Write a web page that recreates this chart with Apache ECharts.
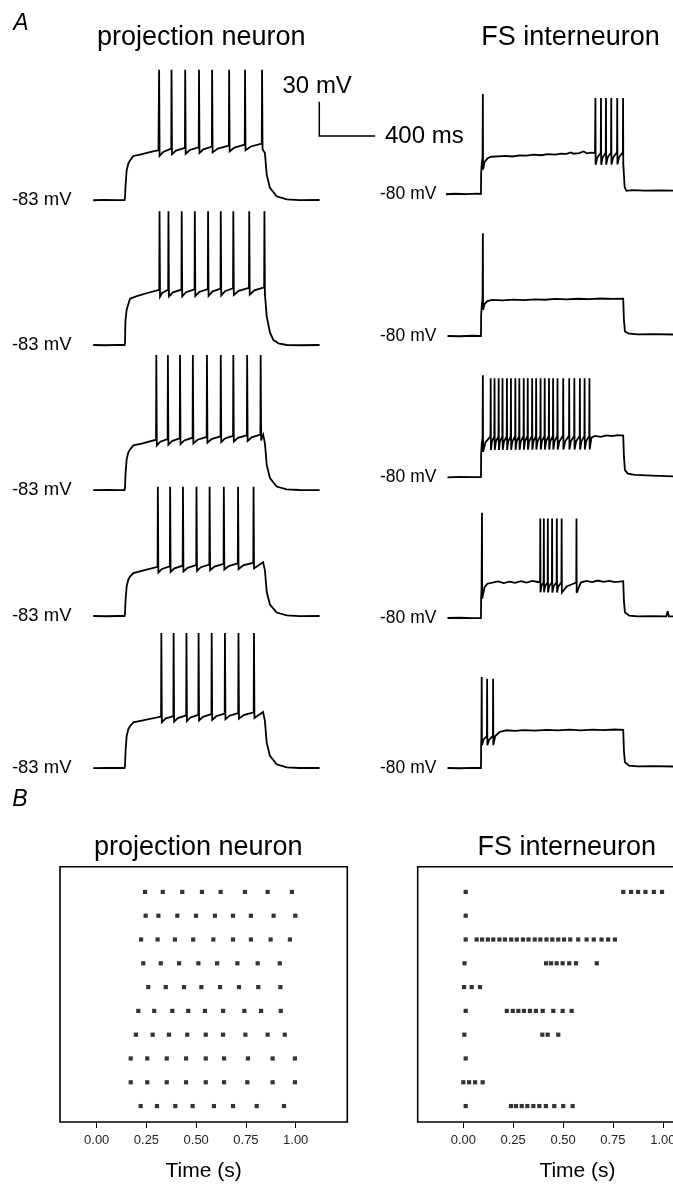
<!DOCTYPE html>
<html><head><meta charset="utf-8">
<script src="https://cdn.jsdelivr.net/npm/echarts@6.0.0/dist/echarts.min.js"></script>
<style>html,body{margin:0;padding:0;background:#fff}#c{width:673px;height:1185px}</style>
</head><body><div id="c"></div><script>
// ---------- DATA ----------
// Spike times (s) after step onset, trials top to bottom (panel B rasters; first five = traces in panel A)
const projSpikes = [
  [0.243,0.332,0.430,0.529,0.623,0.745,0.859,0.981],
  [0.246,0.310,0.405,0.499,0.594,0.685,0.775,0.889,0.998],
  [0.223,0.306,0.393,0.485,0.586,0.685,0.775,0.874,0.971],
  [0.234,0.322,0.414,0.511,0.605,0.707,0.809,0.920],
  [0.259,0.347,0.439,0.526,0.620,0.715,0.812,0.923],
  [0.209,0.289,0.380,0.460,0.544,0.635,0.742,0.826,0.925],
  [0.197,0.281,0.363,0.455,0.548,0.635,0.747,0.859,0.945],
  [0.171,0.254,0.352,0.449,0.548,0.640,0.760,0.884,0.996],
  [0.171,0.254,0.352,0.449,0.548,0.640,0.757,0.884,0.996],
  [0.221,0.303,0.395,0.482,0.589,0.685,0.804,0.941]
];
const fsSpikes = [
  [0.012,0.802,0.841,0.876,0.913,0.955,0.996],
  [0.012],
  [0.012,0.067,0.094,0.123,0.150,0.181,0.209,0.240,0.268,0.299,0.327,0.358,0.386,0.417,0.446,0.476,0.505,0.536,0.576,0.618,0.654,0.693,0.726,0.760],
  [0.006,0.415,0.440,0.468,0.498,0.531,0.565,0.669],
  [0.004,0.042,0.084],
  [0.012,0.218,0.248,0.276,0.304,0.334,0.364,0.398,0.451,0.498,0.543],
  [0.005,0.396,0.423,0.476],
  [0.012],
  [0.000,0.029,0.059,0.097],
  [0.012,0.239,0.264,0.293,0.321,0.351,0.381,0.414,0.456,0.501,0.548]
];
// Subthreshold membrane potential key points [ms, mV] for the five traces of each cell
const projEnv = [
  [[-228,-83.2],[-150,-82.9],[-60,-83.1],[-3,-83],[0,-81],[4,-70],[12,-57],[24,-51],[36,-48.4],[60,-44.5],[108,-43.2],[200,-40.5],[240,-39.5],[330,-38],[600,-36.5],[990,-33.5],[1003,-42],[1016,-61],[1039,-72.4],[1087,-79.8],[1159,-82.4],[1250,-83.1],[1395,-83]],
  [[-228,-83],[-140,-83.2],[-50,-82.9],[-3,-83],[0,-81],[3,-62],[12,-52],[36,-42.5],[80,-40.5],[160,-37.5],[246,-34.8],[600,-34],[1000,-32.5],[1004,-38],[1016,-58],[1039,-72],[1063,-78.6],[1100,-81.5],[1160,-83],[1260,-83.2],[1395,-83]],
  [[-228,-83.1],[-130,-82.9],[-40,-83.1],[-3,-83],[0,-81],[4,-68],[12,-56],[24,-50],[36,-47.5],[60,-44],[120,-42.5],[223,-39],[600,-36.5],[990,-34.5],[1003,-42],[1016,-61],[1039,-72.5],[1087,-80],[1159,-82.5],[1250,-83],[1395,-83.1]],
  [[-228,-83],[-140,-83.2],[-50,-83],[-3,-83],[0,-81],[4,-69],[12,-57],[24,-51],[36,-48.5],[60,-45.5],[120,-43.5],[234,-40],[600,-38],[990,-36],[1003,-43],[1016,-62],[1039,-73],[1087,-80],[1159,-82.5],[1250,-83.1],[1395,-83]],
  [[-228,-83.1],[-130,-83],[-40,-82.9],[-3,-83],[0,-81],[4,-68],[12,-55],[24,-49],[36,-46.5],[60,-43],[120,-41.5],[259,-38],[600,-36],[990,-34],[1003,-42],[1016,-61],[1039,-72.4],[1087,-79.8],[1159,-82.4],[1250,-83],[1395,-83]]
];
const fsEnv = [
  [[-246,-80.2],[-180,-79.8],[-100,-80.1],[-30,-79.7],[-1,-80],[0,-78],[1,-62],[6,-52],[11,-48],[25,-52],[45,-49],[70,-47.4],[120,-47.0],[170,-46.6],[220,-47.2],[270,-46.2],[320,-46.5],[370,-45.6],[420,-46.1],[470,-45.2],[520,-45.5],[560,-44.6],[600,-44.9],[630,-43.6],[650,-44.8],[690,-44.2],[720,-42.8],[745,-44.5],[770,-43.9],[800,-44],[1000,-43.5],[1003,-62],[1008,-74],[1020,-77.2],[1060,-76.6],[1150,-77.1],[1250,-76.8],[1400,-77.2]],
  [[-235,-80],[-150,-80.2],[-60,-79.8],[-1,-80],[0,-78],[1,-62],[6,-52],[11,-48],[25,-52],[45,-49.5],[80,-48.4],[150,-48.8],[230,-48.1],[300,-48.6],[380,-47.9],[450,-48.3],[520,-47.6],[600,-48.0],[680,-47.4],[760,-47.8],[840,-47.2],[920,-47.6],[998,-47.3],[1003,-66],[1010,-76],[1040,-78],[1100,-78.6],[1200,-78.4],[1400,-78.8]],
  [[-235,-80.3],[-150,-79.9],[-60,-80.1],[-1,-80],[0,-78],[1,-60],[6,-50],[11,-46],[40,-44.5],[400,-44],[760,-44],[775,-45.5],[800,-44],[840,-44.8],[880,-43.6],[920,-44.2],[960,-43.4],[998,-43.8],[1003,-62],[1010,-74],[1030,-77],[1080,-78.2],[1200,-78.8],[1400,-79.8]],
  [[-235,-80],[-150,-79.8],[-60,-80.1],[-1,-80],[0,-78],[1,-62],[4,-54],[25,-53],[45,-50],[80,-49],[120,-48],[160,-49.5],[200,-48.2],[240,-49.3],[280,-47.8],[320,-49],[360,-47.6],[400,-48.5],[700,-49],[740,-47.5],[780,-48.6],[820,-47.2],[860,-48.4],[900,-47.5],[940,-48.6],[998,-47.8],[1003,-65],[1010,-75],[1040,-78],[1100,-78.6],[1200,-78.3],[1300,-78.5],[1310,-74],[1318,-78.5],[1400,-78.7]],
  [[-235,-80],[-150,-80.2],[-60,-79.9],[-1,-80],[0,-78],[1,-60],[3,-52],[100,-52],[130,-48.5],[180,-47],[240,-47.5],[300,-46.8],[380,-47.3],[460,-46.6],[540,-47.1],[620,-46.5],[700,-47],[780,-46.4],[860,-46.9],[940,-46.3],[998,-46.6],[1003,-65],[1010,-75],[1040,-78],[1100,-78.6],[1200,-78.4],[1400,-78.8]]
];
const projPeak = [31, 34, 35, 30, 35];          // spike peak (mV)
const projAhp = [5, 6, 5, 5, 5];                // afterhyperpolarisation depth (mV)
const fsOnsetPeak = [7.5, 10, 9, 12, -0.4];     // first spike peak (mV)
const fsBurstPeak = [4, 4, 6.5, 7, -2];         // later spikes peak (mV)
const fsAhp = [10.5, 9, 12, 9, 8];
const projRest = -83, fsRest = -80;             // resting potentials (mV)
const timeTicks = [0, 0.25, 0.5, 0.75, 1.0];   // s
const scaleBar = {mV: 30, ms: 400};

// ---------- BUILD ----------
function interp(env, t) {
  for (let i = 1; i < env.length; i++) {
    if (t <= env[i][0]) {
      const [t0, v0] = env[i-1], [t1, v1] = env[i];
      return v0 + (v1 - v0) * (t - t0) / (t1 - t0);
    }
  }
  return env[env.length-1][1];
}
function buildTrace(env, spikes, pkFirst, pkRest, ahp, rise, fall) {
  const out = [];
  env.forEach(p => { if (p[0] < spikes[0] - 0.6) out.push(p); });
  spikes.forEach((ts, k) => {
    const thr = interp(env, ts - 0.5);
    const pk = k === 0 ? pkFirst : pkRest;
    out.push([ts - 0.5, thr]);
    out.push([ts + rise, pk]);
    out.push([ts + fall, thr - ahp]);
    const next = spikes[k+1];
    if (next !== undefined && next - ts < 150) {
      const m = ts + 0.35 * (next - ts);
      out.push([m, interp(env, m) - ahp * 0.4]);
    } else {
      const lim = next !== undefined ? next - 0.6 : Infinity;
      env.forEach(p => { if (p[0] > ts + fall + 6 && p[0] < lim) out.push(p); });
    }
  });
  return out;
}

const FONT = '"Liberation Sans", Arial, Helvetica, sans-serif';
const projBaseY = [200, 345, 490, 616, 768];
const fsBaseY = [194, 336, 477, 618, 768];
const pxPerMV = 1.143, pxL = 0.1395, pxR = 0.1425;

const grid = [], xAxis = [], yAxis = [], series = [];
function addGrid(g, xa, ya) {
  grid.push(Object.assign({outerBoundsMode: 'none'}, g));
  const gi = grid.length - 1;
  xAxis.push(Object.assign({gridIndex: gi, type: 'value'}, xa));
  yAxis.push(Object.assign({gridIndex: gi, type: 'value'}, ya));
  return gi;
}
const lineSeries = (gi, data, w) => ({
  type: 'line', xAxisIndex: gi, yAxisIndex: gi, data, showSymbol: false, symbol: 'none',
  clip: false, lineStyle: {color: '#000', width: w || 1.8, join: 'miter', miterLimit: 4}, silent: true
});

// projection neuron traces
for (let i = 0; i < 5; i++) {
  const xMin = -240, xMax = 1420, yMin = -90, yMax = 40;
  const gi = addGrid(
    {left: 125 + xMin * pxL, width: (xMax - xMin) * pxL, top: projBaseY[i] - (yMax - projRest) * pxPerMV, height: (yMax - yMin) * pxPerMV},
    {min: xMin, max: xMax, show: false},
    {min: yMin, max: yMax, axisLine: {show: false}, axisTick: {show: false}, splitLine: {show: false},
     axisLabel: {customValues: [projRest], formatter: v => v + ' mV', margin: 20, fontSize: 18.5, color: '#000', fontFamily: FONT}}
  );
  const ms = projSpikes[i].map(t => t * 1000);
  series.push(lineSeries(gi, buildTrace(projEnv[i], ms, projPeak[i], projPeak[i], projAhp[i], 1.5, 5)));
}
// FS interneuron traces
for (let i = 0; i < 5; i++) {
  const xMin = -250, xMax = 1450, yMin = -90, yMax = 20;
  const gi = addGrid(
    {left: 481 + xMin * pxR, width: (xMax - xMin) * pxR, top: fsBaseY[i] - (yMax - fsRest) * pxPerMV, height: (yMax - yMin) * pxPerMV},
    {min: xMin, max: xMax, show: false},
    {min: yMin, max: yMax, axisLine: {show: false}, axisTick: {show: false}, splitLine: {show: false},
     axisLabel: {customValues: [fsRest], formatter: v => v + ' mV', margin: 9, fontSize: 17.5, color: '#000', fontFamily: FONT}}
  );
  const ms = fsSpikes[i].map(t => t * 1000);
  series.push(lineSeries(gi, buildTrace(fsEnv[i], ms, fsOnsetPeak[i], fsBurstPeak[i], fsAhp[i], 1, 2.5)));
}
// scale bar
{
  const gi = addGrid({left: 319.3, top: 101.7, width: scaleBar.ms * pxL, height: scaleBar.mV * pxPerMV},
    {min: 0, max: scaleBar.ms, show: false}, {min: 0, max: scaleBar.mV, show: false});
  series.push(lineSeries(gi, [[0, scaleBar.mV], [0, 0], [scaleBar.ms, 0]], 1.5));
}
// rasters
function addRaster(left, width, zero, pxPerS, spikes) {
  const xMin = (left - zero) / pxPerS, xMax = (left + width - zero) / pxPerS;
  const gi = addGrid(
    {left, width, top: 866.7, height: 255.3, show: true, borderColor: '#000', borderWidth: 1.6},
    {min: xMin, max: xMax, position: 'bottom', axisLine: {show: false, onZero: false}, splitLine: {show: false},
     axisTick: {show: true, customValues: timeTicks, length: 6, lineStyle: {color: '#000', width: 1}},
     axisLabel: {customValues: timeTicks, formatter: v => v.toFixed(2), margin: 12, fontSize: 13, color: '#222', fontFamily: FONT},
     name: 'Time (s)', nameLocation: 'middle', nameGap: 39, nameTextStyle: {fontSize: 21, color: '#000', fontFamily: FONT}},
    {min: -0.06, max: 10.67, inverse: true, show: false}
  );
  const data = [];
  spikes.forEach((row, i) => row.forEach(t => data.push([t, i + 1])));
  series.push({type: 'scatter', xAxisIndex: gi, yAxisIndex: gi, data, symbol: 'rect', symbolSize: 4.2,
    itemStyle: {color: '#000'}, silent: true, clip: false});
}
addRaster(60, 287.3, 96.7, 199, projSpikes);
addRaster(417.7, 319.6, 463.3, 199.5, fsSpikes);

const txt = (x, y, text, font, align) => ({type: 'text', x, y, silent: true,
  style: {text, font, fill: '#000', textAlign: align || 'center', textVerticalAlign: 'middle'}});
const graphic = [
  txt(21, 24, 'A', 'italic 23px ' + FONT),
  txt(201.3, 38, 'projection neuron', '27px ' + FONT),
  txt(570.5, 38, 'FS interneuron', '27px ' + FONT),
  txt(317.2, 86, scaleBar.mV + ' mV', '24px ' + FONT),
  txt(385, 136.5, scaleBar.ms + ' ms', '24px ' + FONT, 'left'),
  txt(20, 800, 'B', 'italic 23px ' + FONT),
  txt(198.3, 848, 'projection neuron', '27px ' + FONT),
  txt(566.7, 848, 'FS interneuron', '27px ' + FONT)
];

const chart = echarts.init(document.getElementById('c'), null, {renderer: 'canvas'});
chart.setOption({animation: false, backgroundColor: '#fff', grid, xAxis, yAxis, series, graphic});
</script></body></html>
